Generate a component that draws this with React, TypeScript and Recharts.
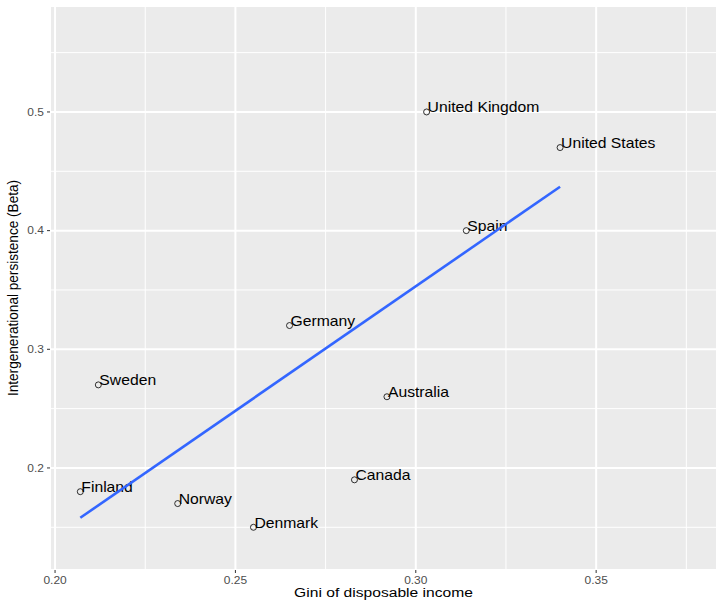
import React from 'react';
import { ScatterChart, Scatter, XAxis, YAxis, CartesianGrid, ReferenceLine } from 'recharts';

const countries = ['United Kingdom', 'United States', 'Spain', 'Germany', 'Sweden', 'Australia', 'Canada', 'Finland', 'Norway', 'Denmark'];
const gini = [0.303, 0.340, 0.314, 0.265, 0.212, 0.292, 0.283, 0.207, 0.234, 0.255];
const beta = [0.50, 0.47, 0.40, 0.32, 0.27, 0.26, 0.19, 0.18, 0.17, 0.15];

const fitX = [0.207, 0.340];
const fitY = [0.158, 0.437];

const xTicks = [0.2, 0.25, 0.3, 0.35];
const yTicks = [0.2, 0.3, 0.4, 0.5];
const xMinor = [0.225, 0.275, 0.325, 0.375];
const yMinor = [0.15, 0.25, 0.35, 0.45, 0.55];
const xDomain = [0.1986, 0.3835];
const yDomain = [0.114, 0.5893];

const xTitle = 'Gini of disposable income';
const yTitle = 'Intergenerational persistence (Beta)';

const points = countries.map((name, i) => ({ name, x: gini[i], y: beta[i] }));
const fitData = fitX.map((x, i) => ({ x, y: fitY[i] }));

const FONT = '"Liberation Sans", Arial, Helvetica, sans-serif';
const SX = 1.14;

const PointShape = (props: any) => {
  const { cx, cy, payload } = props;
  if (cx == null || cy == null) return <g />;
  return (
    <g>
      <circle cx={cx} cy={cy} r={3} fill="none" stroke="#000" strokeWidth={0.8} />
      <g transform={`translate(${cx + 1},${cy + 0.3})`}>
        <text transform={`scale(${SX},1)`} x={0} y={0} fontFamily={FONT} fontSize={13.8} fill="#000">
          {payload.name}
        </text>
      </g>
    </g>
  );
};

const NoShape = () => <g />;

const XTick = (props: any) => {
  const { x, y, payload } = props;
  return (
    <g transform={`translate(${x},${y})`}>
      <text transform={`scale(${SX},1)`} x={0} y={0} dy={9} textAnchor="middle" fontFamily={FONT} fontSize={10.5} fill="#4D4D4D">
        {Number(payload.value).toFixed(2)}
      </text>
    </g>
  );
};

const YTick = (props: any) => {
  const { x, y, payload } = props;
  return (
    <g transform={`translate(${x},${y})`}>
      <text transform={`scale(${SX},1)`} x={0} y={0} dy={3.8} textAnchor="end" fontFamily={FONT} fontSize={10.5} fill="#4D4D4D">
        {Number(payload.value).toFixed(1)}
      </text>
    </g>
  );
};

const XTitle = (props: any) => {
  const vb = props.viewBox || { x: 50, y: 570, width: 667, height: 30 };
  const cx = vb.x + vb.width / 2;
  return (
    <g transform={`translate(${cx},${vb.y + 26.5})`}>
      <text transform={`scale(${SX},1)`} textAnchor="middle" fontFamily={FONT} fontSize={13.7} fill="#000">
        {xTitle}
      </text>
    </g>
  );
};

const YTitle = (props: any) => {
  const vb = props.viewBox || { x: 0, y: 6, width: 50, height: 564 };
  const cy = vb.y + vb.height / 2;
  return (
    <g transform={`translate(18,${cy}) scale(${SX},1) rotate(-90)`}>
      <text textAnchor="middle" fontFamily={FONT} fontSize={13.6} fill="#000">
        {yTitle}
      </text>
    </g>
  );
};

export default function App() {
  return (
    <div style={{ width: 717, height: 600, background: '#fff' }}>
      <style>{'body{margin:0;}'}</style>
      <ScatterChart width={717} height={600} margin={{ top: 6, right: 0, bottom: 0, left: 0 }}>
        <CartesianGrid fill="#EBEBEB" stroke="#FFFFFF" strokeWidth={2} />
        {xMinor.map((v) => (
          <ReferenceLine key={'xm' + v} x={v} stroke="#FFFFFF" strokeWidth={1} />
        ))}
        {yMinor.map((v) => (
          <ReferenceLine key={'ym' + v} y={v} stroke="#FFFFFF" strokeWidth={1} />
        ))}
        <XAxis
          type="number"
          dataKey="x"
          domain={xDomain}
          ticks={xTicks}
          allowDataOverflow
          height={30}
          axisLine={false}
          tickLine={{ stroke: '#333333', strokeWidth: 1 }}
          tickSize={3}
          tickMargin={2}
          tick={<XTick />}
          label={<XTitle />}
        />
        <YAxis
          type="number"
          dataKey="y"
          domain={yDomain}
          ticks={yTicks}
          allowDataOverflow
          width={50}
          axisLine={false}
          tickLine={{ stroke: '#333333', strokeWidth: 1 }}
          tickSize={3}
          tickMargin={3}
          tick={<YTick />}
          label={<YTitle />}
        />
        <Scatter data={points} shape={<PointShape />} isAnimationActive={false} />
        <Scatter
          data={fitData}
          shape={<NoShape />}
          line={{ stroke: '#3366FF', strokeWidth: 2.6 }}
          lineType="joint"
          isAnimationActive={false}
        />
      </ScatterChart>
    </div>
  );
}
